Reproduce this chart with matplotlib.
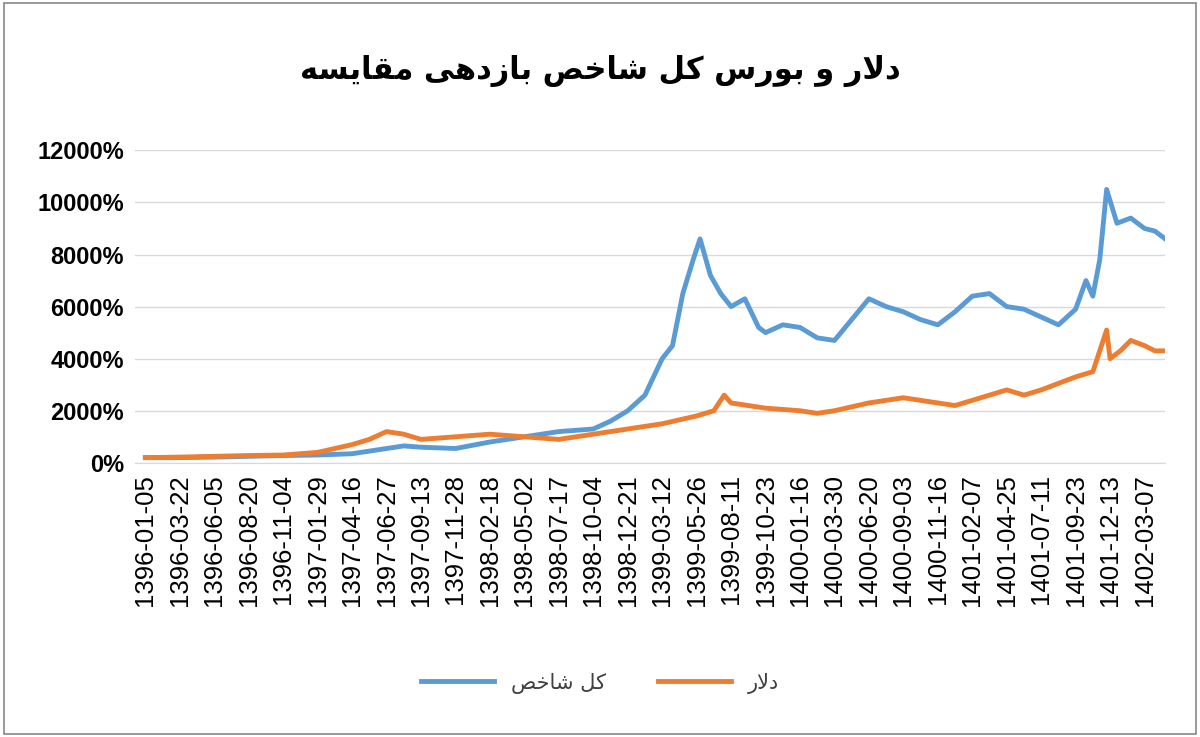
import matplotlib
matplotlib.use("Agg")
import matplotlib.pyplot as plt
from matplotlib.ticker import FuncFormatter

# ---- data ----
tick_labels = ["1396-01-05","1396-03-22","1396-06-05","1396-08-20","1396-11-04",
 "1397-01-29","1397-04-16","1397-06-27","1397-09-13","1397-11-28",
 "1398-02-18","1398-05-02","1398-07-17","1398-10-04","1398-12-21",
 "1399-03-12","1399-05-26","1399-08-11","1399-10-23","1400-01-16",
 "1400-03-30","1400-06-20","1400-09-03","1400-11-16","1401-02-07",
 "1401-04-25","1401-07-11","1401-09-23","1401-12-13","1402-03-07"]
step = 50  # trading days between tick labels

index_pos = [0,1,2,3,4,5,6,7,7.5,8,9,10,11,12,13,13.5,14,14.5,15,15.3,15.6,15.9,16.1,16.4,
             16.7,17,17.4,17.8,18,18.5,19,19.5,20,20.5,21,21.5,22,22.5,23,23.5,24,24.5,
             25,25.5,26,26.5,27,27.3,27.5,27.7,27.9,28.2,28.6,29,29.3,29.6]
index_val = [200,200,220,250,280,300,350,550,650,600,550,800,1000,1200,1300,1600,2000,2600,
             4000,4500,6500,7800,8600,7200,6500,6000,6300,5200,5000,5300,5200,4800,4700,
             5500,6300,6000,5800,5500,5300,5800,6400,6500,6000,5900,5600,5300,5900,7000,
             6400,7800,10500,9200,9400,9000,8900,8600]
dollar_pos = [0,1,2,3,4,5,6,6.5,7,7.5,8,9,10,11,12,13,14,15,16,16.5,16.8,17,17.5,18,19,
              19.5,20,21,22,23,23.5,24,25,25.5,26,27,27.5,28,27.9,28.3,28.6,29,29.3,29.6]
dollar_val = [200,220,250,280,300,400,700,900,1200,1100,900,1000,1100,1000,900,1100,1300,
              1500,1800,2000,2600,2300,2200,2100,2000,1900,2000,2300,2500,2300,2200,2400,
              2800,2600,2800,3300,3500,4000,5100,4300,4700,4500,4300,4300]
dollar_pts = sorted(zip(dollar_pos, dollar_val))

# ---- minimal Arabic/Persian shaping for display ----
FORMS = {  # iso, fin, ini, med
 'ا':('\uFE8D','\uFE8E',None,None),'د':('\uFEA9','\uFEAA',None,None),
 'ر':('\uFEAD','\uFEAE',None,None),'ز':('\uFEAF','\uFEB0',None,None),
 'و':('\uFEED','\uFEEE',None,None),
 'ب':('\uFE8F','\uFE90','\uFE91','\uFE92'),'س':('\uFEB1','\uFEB2','\uFEB3','\uFEB4'),
 'ش':('\uFEB5','\uFEB6','\uFEB7','\uFEB8'),'ص':('\uFEB9','\uFEBA','\uFEBB','\uFEBC'),
 'خ':('\uFEA5','\uFEA6','\uFEA7','\uFEA8'),'ق':('\uFED5','\uFED6','\uFED7','\uFED8'),
 'ل':('\uFEDD','\uFEDE','\uFEDF','\uFEE0'),'م':('\uFEE1','\uFEE2','\uFEE3','\uFEE4'),
 'ه':('\uFEE9','\uFEEA','\uFEEB','\uFEEC'),'ی':('\uFBFC','\uFBFD','\uFBFE','\uFBFF'),
 'ک':('\uFB8E','\uFB8F','\uFB90','\uFB91'),
}
def shape(s):
    out = []
    for w in s.split(' '):
        chars = list(w); res = []; i = 0; n = len(chars)
        while i < n:
            c = chars[i]
            prev_joins = i > 0 and FORMS.get(chars[i-1], (0,0,None))[2] is not None
            if c == 'ل' and i+1 < n and chars[i+1] == 'ا':
                res.append('\uFEFC' if prev_joins else '\uFEFB'); i += 2; continue
            f = FORMS.get(c)
            if f is None:
                res.append(c); i += 1; continue
            can_left = f[2] is not None and i+1 < n and chars[i+1] in FORMS
            if prev_joins and can_left: res.append(f[3])
            elif prev_joins: res.append(f[1])
            elif can_left: res.append(f[2])
            else: res.append(f[0])
            i += 1
        out.append(''.join(res)[::-1])
    return ' '.join(out)

title = "مقایسه بازدهی شاخص کل بورس و دلار"
name_index = "شاخص کل"
name_dollar = "دلار"

plt.rcParams['font.family'] = ['DejaVu Sans']
fig = plt.figure(figsize=(12, 7.37), dpi=100)
ax = fig.add_axes([0.1125, 0.372, 0.8585, 0.424])
ax.plot([p*step for p in index_pos], index_val, color='#5B9BD5', lw=3.5, label=shape(name_index))
ax.plot([p*step for p, v in dollar_pts], [v for p, v in dollar_pts], color='#ED7D31', lw=3.5, label=shape(name_dollar))
ax.set_xlim(-15, 29.6*step)
ax.set_ylim(0, 12000)
ax.set_yticks(range(0, 12001, 2000))
ax.yaxis.set_major_formatter(FuncFormatter(lambda v, p: f"{int(v)}%"))
ax.set_xticks([i*step for i in range(len(tick_labels))])
ax.set_xticklabels(tick_labels, rotation=90, fontsize=18.5, family='Liberation Sans')
for t in ax.get_yticklabels():
    t.set_fontsize(17); t.set_fontweight('bold'); t.set_family('Liberation Sans')
ax.grid(axis='y', color='#d9d9d9', lw=1)
ax.set_axisbelow(True)
for s in ax.spines.values():
    s.set_visible(False)
ax.spines['bottom'].set_visible(True); ax.spines['bottom'].set_color('#d9d9d9')
ax.tick_params(length=0, pad=8)
fig.text(0.5, 0.903, shape(title), ha='center', va='center', fontsize=22, fontweight='bold')
handles, labels = ax.get_legend_handles_labels()
leg = fig.legend(handles, labels, loc='center', bbox_to_anchor=(0.5, 0.073), ncol=2,
                 frameon=False, fontsize=15, handlelength=3.5, columnspacing=2.5)
for t in leg.get_texts():
    t.set_color('#404040')
fig.patches.append(plt.Rectangle((0.003, 0.004), 0.994, 0.992, transform=fig.transFigure,
                                 fill=False, ec='#888888', lw=1.2))
fig.savefig("out.png", dpi=100)
